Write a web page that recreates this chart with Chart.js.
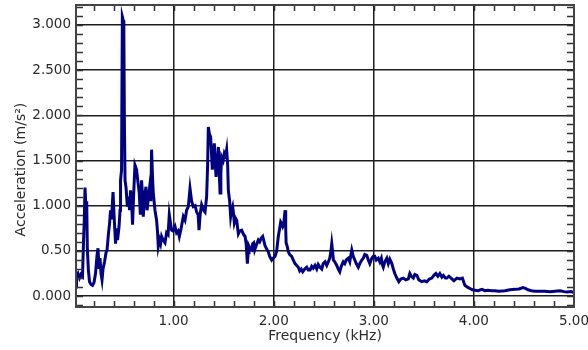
<!DOCTYPE html>
<html>
<head>
<meta charset="utf-8">
<script src="https://cdn.jsdelivr.net/npm/chart.js@4/dist/chart.umd.min.js"></script>
<style>
  html, body { margin: 0; padding: 0; background: #fff; }
  #wrap { width: 588px; height: 350px; }
</style>
</head>
<body>
<div id="wrap"><canvas id="spectrum"></canvas></div>
<script>
// frequency in kHz
const freq = [
  0.025, 0.03, 0.045, 0.06, 0.075, 0.09, 0.1, 0.108, 0.115, 0.125, 0.132, 0.138, 0.148, 0.16, 0.175, 0.19,
  0.205, 0.22, 0.235, 0.245, 0.255, 0.265, 0.275, 0.285, 0.295, 0.31, 0.325, 0.335, 0.35, 0.36, 0.37, 0.38,
  0.395, 0.405, 0.42, 0.43, 0.44, 0.455, 0.465, 0.47, 0.48, 0.488, 0.497, 0.503, 0.508, 0.515, 0.525, 0.538,
  0.55, 0.56, 0.57, 0.58, 0.59, 0.6, 0.614, 0.63, 0.645, 0.657, 0.668, 0.68, 0.69, 0.697, 0.71, 0.724,
  0.735, 0.745, 0.76, 0.772, 0.78, 0.79, 0.797, 0.814, 0.83, 0.84, 0.847, 0.86, 0.87, 0.88, 0.895, 0.914,
  0.93, 0.945, 0.957, 0.97, 0.98, 0.995, 1.014, 1.03, 1.045, 1.057, 1.075, 1.097, 1.114, 1.13, 1.147, 1.164,
  1.18, 1.197, 1.215, 1.23, 1.245, 1.254, 1.265, 1.28, 1.3, 1.314, 1.33, 1.34, 1.347, 1.357, 1.37, 1.38,
  1.387, 1.397, 1.407, 1.415, 1.424, 1.435, 1.447, 1.455, 1.464, 1.472, 1.48, 1.495, 1.507, 1.52, 1.53, 1.54,
  1.547, 1.56, 1.57, 1.58, 1.59, 1.6, 1.607, 1.62, 1.63, 1.647, 1.66, 1.68, 1.7, 1.714, 1.725, 1.737,
  1.745, 1.753, 1.765, 1.78, 1.79, 1.8, 1.81, 1.825, 1.846, 1.86, 1.875, 1.89, 1.9, 1.913, 1.93, 1.946,
  1.96, 1.98, 1.995, 2.013, 2.03, 2.046, 2.06, 2.07, 2.08, 2.09, 2.1, 2.114, 2.12, 2.124, 2.135, 2.146,
  2.16, 2.18, 2.195, 2.213, 2.23, 2.246, 2.26, 2.275, 2.29, 2.31, 2.33, 2.345, 2.363, 2.38, 2.395, 2.413,
  2.43, 2.445, 2.463, 2.48, 2.495, 2.513, 2.53, 2.546, 2.56, 2.572, 2.58, 2.59, 2.596, 2.61, 2.63, 2.645,
  2.66, 2.675, 2.695, 2.71, 2.725, 2.745, 2.76, 2.77, 2.78, 2.795, 2.81, 2.825, 2.845, 2.86, 2.88, 2.895,
  2.91, 2.93, 2.945, 2.96, 2.98, 2.995, 3.01, 3.025, 3.045, 3.06, 3.075, 3.085, 3.095, 3.11, 3.13, 3.145,
  3.16, 3.18, 3.195, 3.21, 3.23, 3.25, 3.27, 3.295, 3.32, 3.345, 3.36, 3.375, 3.395, 3.41, 3.43, 3.45,
  3.48, 3.505, 3.53, 3.555, 3.58, 3.6, 3.62, 3.64, 3.66, 3.68, 3.695, 3.715, 3.73, 3.75, 3.78, 3.8,
  3.83, 3.86, 3.885, 3.9, 3.91, 3.935, 3.96, 3.985, 4.01, 4.04, 4.08, 4.11, 4.14, 4.18, 4.21, 4.25,
  4.31, 4.36, 4.41, 4.45, 4.49, 4.515, 4.54, 4.575, 4.61, 4.66, 4.71, 4.76, 4.81, 4.86, 4.9, 4.93,
  4.97, 5.0
];

// acceleration in m/s²
const accel = [
  0.10, 0.22, 0.25, 0.20, 0.24, 0.22, 0.60, 0.85, 1.20, 0.95, 1.05, 0.54, 0.30, 0.16, 0.13, 0.12,
  0.15, 0.25, 0.45, 0.53, 0.30, 0.42, 0.25, 0.18, 0.30, 0.38, 0.48, 0.51, 0.70, 0.80, 0.95, 0.85,
  1.15, 0.90, 0.58, 0.75, 0.62, 0.77, 0.95, 1.28, 1.40, 3.09, 3.05, 2.93, 1.99, 1.28, 1.20, 0.99,
  1.10, 0.95, 1.17, 1.06, 0.79, 1.10, 1.45, 1.40, 1.25, 1.14, 0.90, 1.28, 1.10, 0.88, 1.10, 1.21,
  0.95, 1.06, 1.20, 1.05, 1.62, 1.30, 1.14, 0.95, 0.84, 0.70, 0.55, 0.62, 0.58, 0.66, 0.62, 0.59,
  0.70, 0.68, 0.90, 0.80, 0.73, 0.72, 0.77, 0.70, 0.72, 0.66, 0.75, 0.88, 0.84, 0.95, 0.99, 1.19,
  1.05, 0.99, 1.00, 0.93, 0.90, 0.73, 0.90, 1.01, 0.95, 0.93, 1.10, 1.45, 1.87, 1.80, 1.76, 1.55,
  1.40, 1.55, 1.69, 1.50, 1.32, 1.45, 1.65, 1.40, 1.14, 1.35, 1.54, 1.50, 1.58, 1.55, 1.62, 1.45,
  1.17, 1.05, 0.88, 0.95, 0.99, 0.90, 0.81, 0.86, 0.84, 0.69, 0.72, 0.73, 0.68, 0.66, 0.58, 0.36,
  0.48, 0.55, 0.52, 0.51, 0.58, 0.59, 0.51, 0.56, 0.62, 0.60, 0.64, 0.66, 0.62, 0.56, 0.52, 0.49,
  0.44, 0.40, 0.42, 0.44, 0.50, 0.66, 0.75, 0.82, 0.80, 0.77, 0.80, 0.95, 0.75, 0.59, 0.55, 0.49,
  0.46, 0.44, 0.40, 0.36, 0.34, 0.32, 0.28, 0.30, 0.27, 0.30, 0.32, 0.29, 0.29, 0.33, 0.31, 0.34,
  0.30, 0.35, 0.32, 0.30, 0.36, 0.38, 0.34, 0.38, 0.42, 0.50, 0.58, 0.48, 0.40, 0.38, 0.34, 0.30,
  0.27, 0.33, 0.38, 0.36, 0.40, 0.42, 0.38, 0.45, 0.51, 0.44, 0.40, 0.36, 0.32, 0.36, 0.40, 0.42,
  0.46, 0.45, 0.40, 0.36, 0.42, 0.44, 0.44, 0.40, 0.42, 0.38, 0.42, 0.35, 0.32, 0.38, 0.42, 0.36,
  0.41, 0.36, 0.30, 0.25, 0.20, 0.16, 0.19, 0.20, 0.18, 0.19, 0.25, 0.22, 0.20, 0.24, 0.23, 0.18,
  0.16, 0.17, 0.16, 0.19, 0.20, 0.23, 0.25, 0.22, 0.25, 0.21, 0.23, 0.20, 0.20, 0.22, 0.19, 0.17,
  0.20, 0.19, 0.20, 0.15, 0.12, 0.10, 0.085, 0.07, 0.066, 0.06, 0.075, 0.06, 0.065, 0.06, 0.06, 0.055,
  0.06, 0.07, 0.075, 0.08, 0.095, 0.085, 0.07, 0.06, 0.055, 0.055, 0.055, 0.05, 0.055, 0.06, 0.05, 0.045,
  0.05, 0.04
];

const xTicks = [1, 2, 3, 4, 5];
const xTickLabels = ["1.00", "2.00", "3.00", "4.00", "5.00"];
const yTicks = [0, 0.5, 1, 1.5, 2, 2.5, 3];
const yTickLabels = ["0.000", "0.50", "1.000", "1.500", "2.000", "2.500", "3.000"];
const yTitle = "Acceleration (m/s²)";

const FONT = { family: "'DejaVu Sans', sans-serif", size: 13.5 };
const TITLE_FONT = { family: "'DejaVu Sans', sans-serif", size: 14 };
const TEXT_COLOR = "#2a2a2a";

// frame around the plot plus short inward minor ticks on all four sides
const frameTicks = {
  id: "frameTicks",
  afterDraw(chart) {
    const { ctx, chartArea: a, scales } = chart;
    const xs = scales.x;
    const ys = scales.y;
    ctx.save();
    ctx.strokeStyle = "#333";
    ctx.lineWidth = 1.5;
    ctx.beginPath();
    for (let v = 0.2; v < 5; v += 0.2) {
      const px = Math.round(xs.getPixelForValue(v)) + 0.5;
      ctx.moveTo(px, a.top);
      ctx.lineTo(px, a.top + 6);
      ctx.moveTo(px, a.bottom);
      ctx.lineTo(px, a.bottom - 6);
    }
    for (let v = -0.1; v < 3.25; v += 0.1) {
      const py = Math.round(ys.getPixelForValue(v)) + 0.5;
      if (py <= a.top + 1 || py >= a.bottom - 1) continue;
      ctx.moveTo(a.left, py);
      ctx.lineTo(a.left + 7, py);
      ctx.moveTo(a.right, py);
      ctx.lineTo(a.right - 7, py);
    }
    ctx.stroke();
    ctx.strokeStyle = "#444";
    ctx.lineWidth = 2;
    ctx.strokeRect(a.left, a.top, a.right - a.left, a.bottom - a.top);

    // y title sits a bit below the axis centre, centred on 1.4 m/s²
    ctx.translate(21, ys.getPixelForValue(1.4));
    ctx.rotate(-Math.PI / 2);
    ctx.fillStyle = TEXT_COLOR;
    ctx.font = `${TITLE_FONT.size}px ${TITLE_FONT.family}`;
    ctx.textAlign = "center";
    ctx.textBaseline = "middle";
    ctx.fillText(yTitle, 0, 0);
    ctx.restore();
  },
};

new Chart(document.getElementById("spectrum"), {
  type: "line",
  data: {
    datasets: [
      {
        data: freq.map((f, i) => ({ x: f, y: accel[i] })),
        borderColor: "rgb(0, 0, 128)",
        borderWidth: 3,
        pointRadius: 0,
        tension: 0,
      },
    ],
  },
  options: {
    responsive: true,
    maintainAspectRatio: false,
    animation: false,
    events: [],
    layout: { padding: { top: 5, right: 14, bottom: 0, left: 0 } },
    plugins: { legend: { display: false }, tooltip: { enabled: false } },
    scales: {
      x: {
        type: "linear",
        min: 0.025,
        max: 5.0,
        afterBuildTicks: (scale) => {
          scale.ticks = xTicks.map((v) => ({ value: v }));
        },
        afterFit: (scale) => {
          scale.height = 43;
          scale.paddingLeft = 0;
          scale.paddingRight = 0;
        },
        ticks: {
          autoSkip: false,
          maxRotation: 0,
          padding: 6,
          color: TEXT_COLOR,
          font: FONT,
          callback: (v) => xTickLabels[xTicks.indexOf(v)],
        },
        grid: { color: "#1e1e1e", lineWidth: 1.5, drawTicks: false },
        border: { display: false },
        title: {
          display: true,
          text: "Frequency (kHz)",
          color: TEXT_COLOR,
          font: TITLE_FONT,
          padding: { top: 0, bottom: 5 },
        },
      },
      y: {
        type: "linear",
        min: -0.12,
        max: 3.22,
        afterBuildTicks: (scale) => {
          scale.ticks = yTicks.map((v) => ({ value: v }));
        },
        afterFit: (scale) => {
          scale.width = 76;
          scale.paddingTop = 0;
          scale.paddingBottom = 0;
        },
        ticks: {
          autoSkip: false,
          padding: 5,
          color: TEXT_COLOR,
          font: FONT,
          callback: (v) => yTickLabels[yTicks.indexOf(v)],
        },
        grid: { color: "#1e1e1e", lineWidth: 1.5, drawTicks: false },
        border: { display: false },
      },
    },
  },
  plugins: [frameTicks],
});
</script>
</body>
</html>
